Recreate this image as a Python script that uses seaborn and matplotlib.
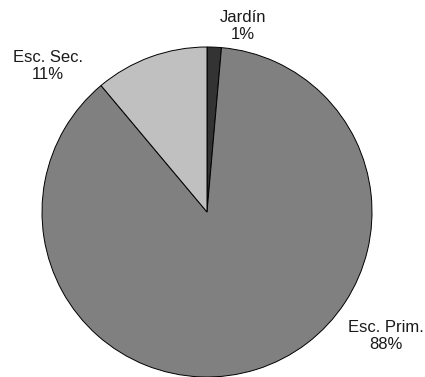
import matplotlib
matplotlib.use("Agg")
import matplotlib.pyplot as plt
import seaborn as sns

# education level shares
levels = ['Jardín', 'Esc. Prim.', 'Esc. Sec.']
shares = [1.4, 87.5, 11.1]
slice_colors = ['#333333', '#808080', '#c0c0c0']
# label anchor offsets, in pie radius units
label_pos = [(0.22, 1.127), (1.085, -0.752), (-0.964, 0.885)]

sns.set_style('white')
plt.rcParams['font.family'] = ['Liberation Sans', 'DejaVu Sans']

fig = plt.figure(figsize=(4.25, 3.77), dpi=100)
ax = fig.add_axes([42 / 425, 0.0, 330 / 425, 330 / 377])

ax.pie(shares, colors=slice_colors, startangle=90, counterclock=False,
       wedgeprops={'edgecolor': 'black', 'linewidth': 0.7})
ax.set_xlim(-1, 1)
ax.set_ylim(-1, 1)
ax.axis('off')

for name, val, (x, y) in zip(levels, shares, label_pos):
    ax.text(x, y, f'{name}\n{round(val):.0f}%', ha='center', va='center',
            fontsize=12, color='#1a1a1a', linespacing=1.1, clip_on=False)

fig.savefig('out.png', dpi=100)
